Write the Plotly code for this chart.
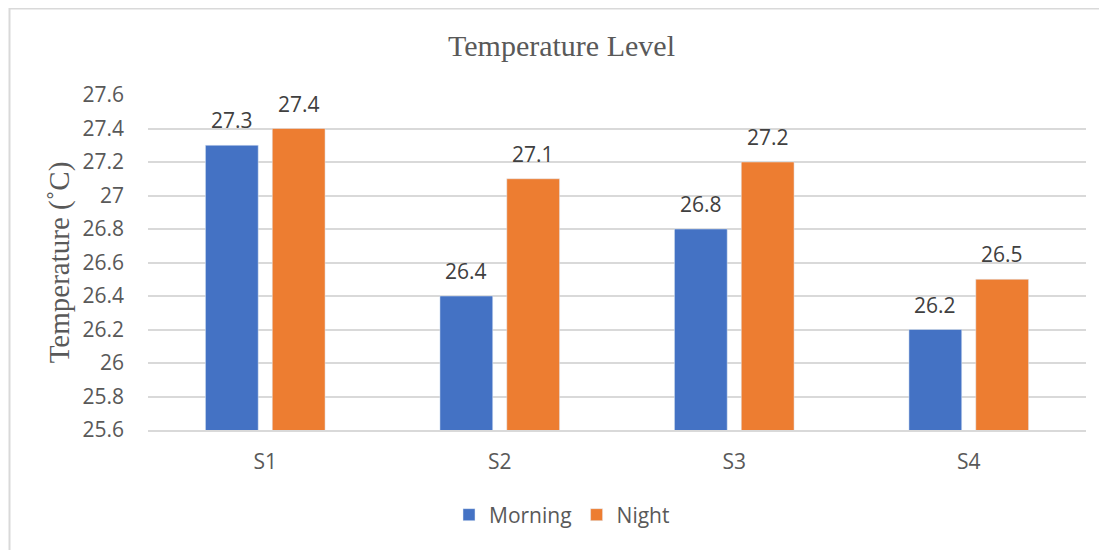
import plotly.graph_objects as go

categories = ["S1", "S2", "S3", "S4"]
morning = [27.3, 26.4, 26.8, 26.2]
night = [27.4, 27.1, 27.2, 26.5]
y_ticks = [25.6, 25.8, 26.0, 26.2, 26.4, 26.6, 26.8, 27.0, 27.2, 27.4, 27.6]
y_tick_labels = ["25.6", "25.8", "26", "26.2", "26.4", "26.6", "26.8", "27", "27.2", "27.4", "27.6"]

sans = "Open Sans, Liberation Sans, sans-serif"
serif = "Liberation Serif, Times New Roman, serif"
grey = "#595959"

# plot area in figure pixels (page is offset by 8px body margin)
L, T, R, B = 140, 87, 1078, 422
W, H = 1107, 550


def px(fx):
    return (fx - L) / (R - L)


def py(fy):
    return (B - fy) / (B - T)


fig = go.Figure()
fig.add_trace(go.Bar(x=categories, y=morning, name="Morning", marker_color="#4472C4"))
fig.add_trace(go.Bar(x=categories, y=night, name="Night", marker_color="#ED7D31"))

bargap, bargroupgap = 0.43, 0.21
cat_w = (R - L) / len(categories)
slot = cat_w * (1 - bargap) / 2
annotations = []
for vals, sign in ((morning, -1), (night, 1)):
    for c, v in zip(categories, vals):
        annotations.append(dict(x=c, y=v, xref="x", yref="y", text=str(v), showarrow=False,
                                xanchor="center", yanchor="bottom", xshift=sign * slot / 2,
                                yshift=9, font=dict(family=sans, size=21, color="#404040")))

fig.update_layout(
    width=W, height=H,
    margin=dict(l=L, r=W - R, t=T, b=H - B, autoexpand=False),
    paper_bgcolor="white", plot_bgcolor="white",
    barmode="group", bargap=bargap, bargroupgap=bargroupgap,
    annotations=annotations,
    title=dict(text="Temperature Level", x=0.5, xref="container", xanchor="center",
               y=1 - 37 / H, yref="container", yanchor="middle",
               font=dict(family=serif, size=30, color=grey)),
    legend=dict(orientation="h", x=px(554), xanchor="center", y=py(507), yanchor="middle",
                xref="paper", yref="paper", font=dict(family=sans, size=21, color=grey),
                itemwidth=30, traceorder="normal"),
    showlegend=True,
    font=dict(family=sans, color=grey),
)
fig.update_yaxes(range=[25.6, 27.6], tickvals=y_ticks, ticktext=y_tick_labels,
                 showgrid=True, gridcolor="#d9d9d9", gridwidth=1.5, zeroline=False,
                 showline=False, ticks="", ticklen=0, automargin=False, ticklabelstandoff=23,
                 tickfont=dict(family=sans, size=21, color=grey),
                 title=dict(text="Temperature (˚C)", font=dict(family=serif, size=29, color=grey),
                            standoff=4))
fig.update_xaxes(showline=True, linecolor="#d9d9d9", linewidth=1.5, ticks="", automargin=False,
                 ticklabelstandoff=12,
                 tickfont=dict(family=sans, size=21, color=grey))

fig.add_shape(type="rect", xref="paper", yref="paper",
              x0=px(1.5), x1=px(W + 10),
              y0=py(H + 10), y1=py(0.5),
              line=dict(color="#d9d9d9", width=2), layer="below")

fig.write_html("out.html")
